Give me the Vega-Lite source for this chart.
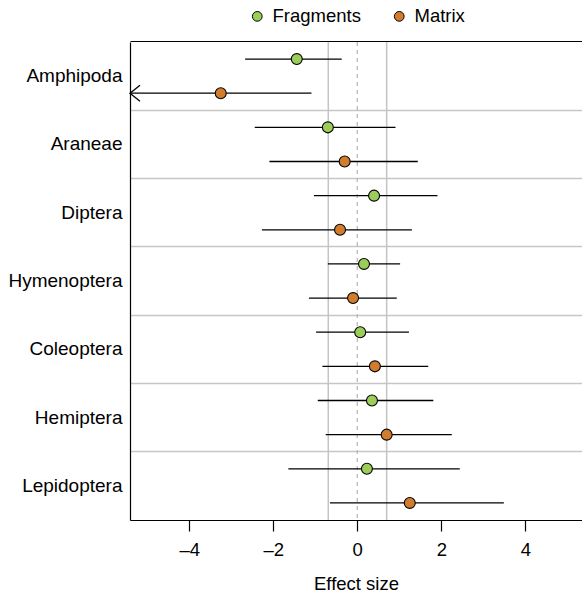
{
  "$schema": "https://vega.github.io/schema/vega-lite/v6.json",
  "width": 452,
  "height": 478,
  "autosize": {"type": "none"},
  "padding": {"left": 130, "top": 42, "right": 0, "bottom": 73},
  "background": "white",
  "config": {
    "font": "Liberation Sans",
    "view": {"stroke": null}
  },
  "datasets": {
    "est": [
      {"taxon": "Amphipoda", "group": "Fragments", "est": -1.44, "lo": -2.67, "hi": -0.37, "arrow": 0},
      {"taxon": "Amphipoda", "group": "Matrix", "est": -3.25, "lo": -5.41, "hi": -1.09, "arrow": 1},
      {"taxon": "Araneae", "group": "Fragments", "est": -0.70, "lo": -2.44, "hi": 0.91, "arrow": 0},
      {"taxon": "Araneae", "group": "Matrix", "est": -0.30, "lo": -2.09, "hi": 1.44, "arrow": 0},
      {"taxon": "Diptera", "group": "Fragments", "est": 0.40, "lo": -1.03, "hi": 1.91, "arrow": 0},
      {"taxon": "Diptera", "group": "Matrix", "est": -0.41, "lo": -2.27, "hi": 1.30, "arrow": 0},
      {"taxon": "Hymenoptera", "group": "Fragments", "est": 0.16, "lo": -0.70, "hi": 1.02, "arrow": 0},
      {"taxon": "Hymenoptera", "group": "Matrix", "est": -0.10, "lo": -1.15, "hi": 0.94, "arrow": 0},
      {"taxon": "Coleoptera", "group": "Fragments", "est": 0.07, "lo": -0.98, "hi": 1.23, "arrow": 0},
      {"taxon": "Coleoptera", "group": "Matrix", "est": 0.42, "lo": -0.83, "hi": 1.69, "arrow": 0},
      {"taxon": "Hemiptera", "group": "Fragments", "est": 0.35, "lo": -0.94, "hi": 1.81, "arrow": 0},
      {"taxon": "Hemiptera", "group": "Matrix", "est": 0.70, "lo": -0.75, "hi": 2.25, "arrow": 0},
      {"taxon": "Lepidoptera", "group": "Fragments", "est": 0.23, "lo": -1.64, "hi": 2.44, "arrow": 0},
      {"taxon": "Lepidoptera", "group": "Matrix", "est": 1.25, "lo": -0.65, "hi": 3.49, "arrow": 0}
    ],
    "vlines": [
      {"v": -0.69},
      {"v": 0.70}
    ],
    "zero": [
      {"v": 0}
    ]
  },
  "layer": [
    {
      "data": {"name": "vlines"},
      "mark": {"type": "rule", "color": "#c4c4c4", "strokeWidth": 1.5},
      "encoding": {
        "x": {"field": "v", "type": "quantitative"}
      }
    },
    {
      "data": {"name": "zero"},
      "mark": {"type": "rule", "color": "#b4b4b4", "strokeWidth": 1.2, "strokeDash": [4, 4]},
      "encoding": {
        "x": {"field": "v", "type": "quantitative"}
      }
    },
    {
      "data": {"name": "est"},
      "mark": {"type": "rule", "color": "black", "strokeWidth": 1.3},
      "encoding": {
        "y": {"field": "taxon", "type": "nominal"},
        "yOffset": {"field": "group", "type": "nominal"},
        "x": {"field": "lo", "type": "quantitative"},
        "x2": {"field": "hi"}
      }
    },
    {
      "data": {"name": "est"},
      "transform": [{"filter": "datum.arrow == 1"}],
      "mark": {"type": "point", "filled": false, "shape": "M1.25,-1L0,0L1.25,1", "size": 256, "color": "black", "strokeWidth": 1.3, "opacity": 1},
      "encoding": {
        "y": {"field": "taxon", "type": "nominal"},
        "yOffset": {"field": "group", "type": "nominal"},
        "x": {"field": "lo", "type": "quantitative"}
      }
    },
    {
      "data": {"name": "est"},
      "mark": {"type": "point", "filled": true, "size": 120, "stroke": "black", "strokeWidth": 1.1, "opacity": 1},
      "encoding": {
        "y": {
          "field": "taxon",
          "type": "nominal",
          "scale": {"domain": ["Amphipoda", "Araneae", "Diptera", "Hymenoptera", "Coleoptera", "Hemiptera", "Lepidoptera"], "paddingInner": 0, "paddingOuter": 0},
          "axis": {
            "title": null,
            "orient": "left",
            "ticks": false,
            "domainColor": "black",
            "domainWidth": 1.2,
            "labelFontSize": 19,
            "labelColor": "black",
            "labelPadding": 8,
            "grid": true,
            "bandPosition": 0,
            "gridColor": {"condition": {"test": "datum.value == 'Amphipoda'", "value": "black"}, "value": "#c6c6c6"},
            "gridWidth": {"condition": {"test": "datum.value == 'Amphipoda'", "value": 1.2}, "value": 1.5}
          }
        },
        "yOffset": {"field": "group", "type": "nominal"},
        "x": {
          "field": "est",
          "type": "quantitative",
          "scale": {"domain": [-5.41, 5.35], "nice": false, "zero": false},
          "axis": {
            "values": [-4, -2, 0, 2, 4],
            "labelExpr": "datum.value < 0 ? '–' + abs(datum.value) : '' + datum.value",
            "grid": false,
            "domainColor": "black",
            "domainWidth": 1.2,
            "tickColor": "black",
            "tickWidth": 1.2,
            "tickSize": 11,
            "labelFontSize": 18.5,
            "labelColor": "black",
            "labelPadding": 9,
            "title": "Effect size",
            "titleFontSize": 18.5,
            "titleFontWeight": "normal",
            "titleColor": "black",
            "titlePadding": 16
          }
        },
        "fill": {
          "field": "group",
          "type": "nominal",
          "scale": {"domain": ["Fragments", "Matrix"], "range": ["#9ccd5a", "#d27d2d"]},
          "legend": {
            "title": null,
            "orient": "none",
            "direction": "horizontal",
            "legendX": 118,
            "legendY": -35,
            "symbolType": "circle",
            "symbolSize": 95,
            "symbolStrokeColor": "black",
            "symbolStrokeWidth": 1,
            "labelFontSize": 18.5,
            "labelColor": "black",
            "labelOffset": 6,
            "columnPadding": 29
          }
        }
      }
    }
  ]
}
